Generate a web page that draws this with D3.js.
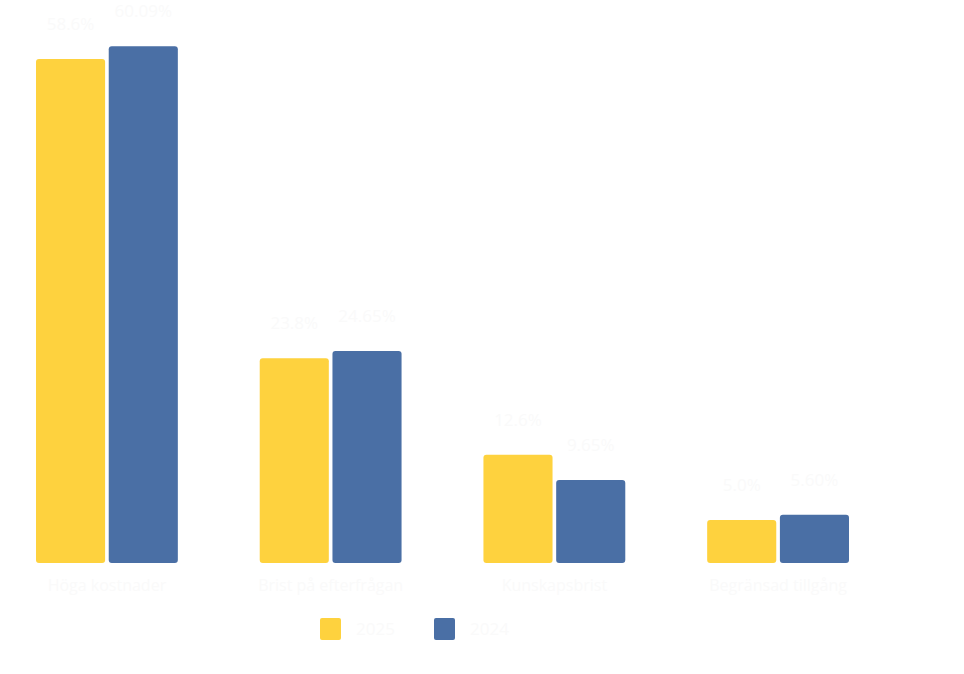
<!DOCTYPE html>
<html>
<head>
<meta charset="utf-8">
<script src="https://cdn.jsdelivr.net/npm/d3@7"></script>
<style>
  body { margin: 0; background: #fff; }
  text { font-family: "Open Sans", "DejaVu Sans", sans-serif; fill: #fafafa; }
</style>
</head>
<body>
<div id="chart-area"></div>
<script>
var categories = ["Höga kostnader", "Brist på efterfrågan", "Kunskapsbrist", "Begränsad tillgång"];
var seriesNames = ["2025", "2024"];
var values2025 = [58.6, 23.8, 12.6, 5.0];
var values2024 = [60.09, 24.65, 9.65, 5.60];
var colors = ["#fed23e", "#4a6fa5"];

var width = 964;
var height = 674;
var baseline = 563;

var svg = d3.select("#chart-area").append("svg")
    .attr("width", width)
    .attr("height", height);

var data = categories.map((c, i) => {
    return {name: c, vals: [
        {series: "2025", value: values2025[i], decimals: 1},
        {series: "2024", value: values2024[i], decimals: 2}
    ]};
});

var x = d3.scaleBand()
    .domain(categories)
    .range([36, 849])
    .paddingInner(0.366)
    .paddingOuter(0);

var x1 = d3.scaleBand()
    .domain(seriesNames)
    .range([0, x.bandwidth()])
    .paddingInner(0.05);

var y = d3.scaleLinear()
    .domain([0, 60])
    .range([baseline, baseline - 516]);

var color = d3.scaleOrdinal()
    .domain(seriesNames)
    .range(colors);

var groups = svg.selectAll("g.cat").data(data).enter()
    .append("g")
        .attr("class", "cat")
        .attr("transform", (d) => "translate(" + x(d.name) + ",0)");

groups.selectAll("rect").data((d) => d.vals).enter()
    .append("rect")
        .attr("x", (d) => x1(d.series))
        .attr("y", (d) => y(d.value))
        .attr("width", x1.bandwidth())
        .attr("height", (d) => baseline - y(d.value))
        .attr("rx", 3)
        .attr("fill", (d) => color(d.series));

// value labels, almost white
groups.selectAll("text.val").data((d) => d.vals).enter()
    .append("text")
        .attr("class", "val")
        .attr("x", (d) => x1(d.series) + x1.bandwidth() / 2)
        .attr("y", (d) => y(d.value) - 29)
        .attr("text-anchor", "middle")
        .attr("font-size", 17)
        .text((d) => d.value.toFixed(d.decimals) + "%");

// category labels
groups.append("text")
    .attr("x", x.bandwidth() / 2)
    .attr("y", 591)
    .attr("text-anchor", "middle")
    .attr("font-size", 16)
    .text((d) => d.name);

// legend
var legend = svg.selectAll("g.leg").data(seriesNames).enter()
    .append("g")
        .attr("class", "leg")
        .attr("transform", (d, i) => "translate(" + (320 + i * 114) + ",618)");

legend.append("rect")
    .attr("width", 21)
    .attr("height", 22)
    .attr("rx", 2)
    .attr("fill", (d) => color(d));

legend.append("text")
    .attr("x", 36)
    .attr("y", 17)
    .attr("font-size", 17)
    .text((d) => d);
</script>
</body>
</html>
